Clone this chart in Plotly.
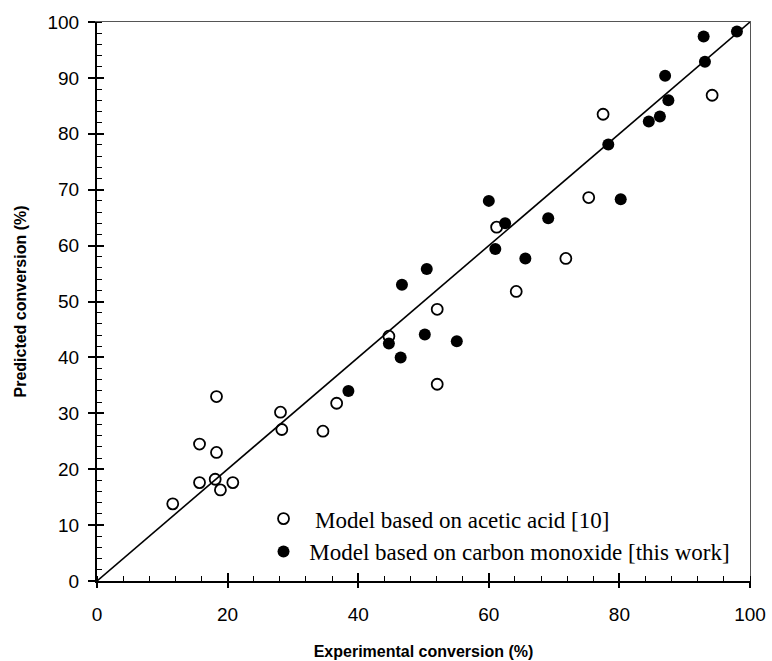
import plotly.graph_objects as go

# Model based on acetic acid [10] (open circles)
acetic_exp = [11.6, 15.7, 15.7, 18.3, 18.3, 18.1, 18.9, 20.8, 28.1, 28.3, 34.6, 36.7,
              44.7, 52.1, 52.1, 61.2, 64.2, 71.8, 75.3, 77.5, 94.2]
acetic_pred = [13.8, 17.6, 24.5, 33.0, 23.0, 18.2, 16.3, 17.6, 30.2, 27.1, 26.8, 31.8,
               43.8, 48.6, 35.2, 63.3, 51.8, 57.7, 68.6, 83.5, 86.9]

# Model based on carbon monoxide [this work] (filled circles)
co_exp = [38.5, 44.7, 46.5, 46.7, 50.2, 50.5, 55.1, 60.0, 61.0, 62.5, 65.6, 69.1,
          78.3, 80.2, 84.5, 86.2, 87.0, 87.5, 92.9, 93.1, 98.0]
co_pred = [34.0, 42.5, 40.0, 53.0, 44.1, 55.8, 42.9, 68.0, 59.4, 64.0, 57.7, 64.9,
           78.1, 68.3, 82.2, 83.1, 90.4, 86.0, 97.4, 92.9, 98.3]

parity = [0, 100]
legend_names = ["\u00a0\u00a0Model based on acetic acid [10]",
                "\u00a0Model based on carbon monoxide [this work]"]

fig = go.Figure()
fig.add_trace(go.Scatter(x=parity, y=parity, mode="lines",
                         line=dict(color="black", width=1.6), showlegend=False,
                         hoverinfo="skip"))
fig.add_trace(go.Scatter(x=acetic_exp, y=acetic_pred, mode="markers", name=legend_names[0],
                         marker=dict(symbol="circle-open", size=11, color="black",
                                     line=dict(width=1.8, color="black"))))
fig.add_trace(go.Scatter(x=co_exp, y=co_pred, mode="markers", name=legend_names[1],
                         marker=dict(symbol="circle", size=12, color="black")))

tickfont = dict(family="Liberation Sans, Arial", size=19, color="black")
titlefont = dict(family="Liberation Sans, Arial", size=16, color="black", weight="bold")

fig.update_layout(
    width=772, height=661,
    margin=dict(l=97, r=22, t=22, b=80),
    plot_bgcolor="white", paper_bgcolor="white",
    showlegend=True,
    legend=dict(x=0.255, y=0.15, xanchor="left", yanchor="top",
                bgcolor="rgba(0,0,0,0)",
                font=dict(family="Liberation Serif, Times New Roman", size=23, color="black"),
                tracegroupgap=0, itemsizing="trace"),
    xaxis=dict(range=[0, 100], dtick=20, showgrid=False, zeroline=False, automargin=False,
               showline=True, linecolor="black", linewidth=2,
               ticks="outside", ticklen=5, tickwidth=1.5, tickcolor="black",
               tickfont=tickfont, ticklabelstandoff=10,
               minor=dict(dtick=4, ticks="inside", ticklen=5, tickwidth=1, tickcolor="black", showgrid=False),
               title=dict(text="Experimental conversion (%)", font=titlefont, standoff=22)),
    yaxis=dict(range=[0, 100], dtick=10, showgrid=False, zeroline=False, automargin=False,
               showline=True, linecolor="black", linewidth=2,
               ticks="outside", ticklen=7, tickwidth=1.5, tickcolor="black",
               tickfont=tickfont, ticklabelstandoff=5,
               minor=dict(dtick=2, ticks="inside", ticklen=5, tickwidth=1, tickcolor="black", showgrid=False),
               title=dict(text="Predicted conversion (%)", font=titlefont, standoff=17)),
    xaxis2=dict(range=[0, 100], overlaying="x", side="top", showline=True, automargin=False,
                linecolor="#555", linewidth=1, showticklabels=False, ticks="",
                showgrid=False, zeroline=False),
    yaxis2=dict(range=[0, 100], overlaying="y", side="right", showline=True, automargin=False,
                linecolor="#555", linewidth=1, showticklabels=False, ticks="",
                showgrid=False, zeroline=False),
    xaxis3=dict(range=[0, 100], overlaying="x", side="bottom", showline=False, automargin=False,
                dtick=20, ticks="inside", ticklen=8, tickwidth=1.5, tickcolor="black",
                showticklabels=False, showgrid=False, zeroline=False),
    yaxis3=dict(range=[0, 100], overlaying="y", side="left", showline=False, automargin=False,
                dtick=10, ticks="inside", ticklen=7, tickwidth=1.5, tickcolor="black",
                showticklabels=False, showgrid=False, zeroline=False),
)
# invisible anchor traces so that the overlay axes are drawn
fig.add_trace(go.Scatter(x=parity, y=parity, xaxis="x2", yaxis="y2", mode="lines",
                         line=dict(width=0), showlegend=False, hoverinfo="skip", opacity=0))
fig.add_trace(go.Scatter(x=parity, y=parity, xaxis="x3", yaxis="y3", mode="lines",
                         line=dict(width=0), showlegend=False, hoverinfo="skip", opacity=0))

fig.write_html("out.html")
